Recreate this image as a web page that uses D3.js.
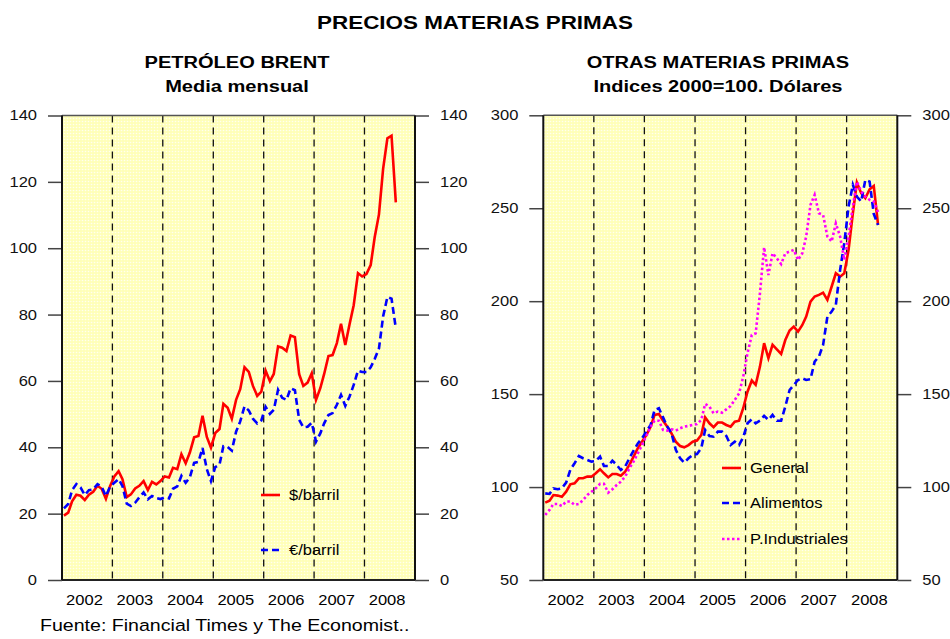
<!DOCTYPE html>
<html>
<head>
<meta charset="utf-8">
<script src="https://cdn.jsdelivr.net/npm/d3@7"></script>
<style>
  body { margin: 0; background: #fff; }
  svg { display: block; font-family: "Liberation Sans", Arial, sans-serif; }
</style>
</head>
<body>
<svg id="chart" width="950" height="639"></svg>
<script>
// year labels on the x axis
var years = ["2002", "2003", "2004", "2005", "2006", "2007", "2008"];

// Brent, monthly average, Jan 2002 - Aug 2008
var brentUsd = [19.4, 20.3, 23.7, 25.7, 25.4, 24.1, 25.7, 26.6, 28.4, 27.5, 24.5, 28.3,
  31.2, 32.8, 30.4, 25.0, 25.8, 27.6, 28.4, 29.8, 27.1, 29.6, 28.8, 29.8,
  31.2, 30.9, 33.8, 33.4, 37.9, 35.2, 38.4, 43.0, 43.4, 49.5, 43.1, 39.9,
  44.3, 45.5, 53.1, 51.9, 48.6, 54.3, 57.5, 64.1, 62.7, 58.5, 55.5, 56.8,
  63.1, 59.9, 62.1, 70.4, 70.0, 69.0, 73.7, 73.2, 62.0, 58.5, 59.5, 62.3,
  54.3, 57.8, 62.1, 67.5, 67.8, 71.4, 77.2, 70.8, 77.1, 82.8, 92.5, 91.5,
  92.2, 94.9, 103.3, 110.2, 123.9, 133.1, 133.9, 113.8];
var brentEur = [21.6, 22.9, 27.1, 28.9, 27.9, 25.6, 27.1, 27.3, 28.9, 28.1, 25.3, 28.1,
  29.3, 30.4, 28.3, 23.0, 22.3, 23.3, 24.9, 26.4, 24.3, 25.3, 24.7, 24.4,
  24.9, 24.6, 27.5, 28.2, 31.4, 29.3, 30.9, 35.3, 35.6, 39.8, 33.4, 29.8,
  34.0, 34.8, 40.3, 40.1, 39.0, 44.7, 47.8, 52.3, 51.1, 48.6, 47.2, 48.1,
  52.2, 50.1, 51.3, 57.3, 54.9, 54.3, 57.8, 57.2, 48.3, 46.0, 46.2, 47.4,
  41.7, 44.2, 47.2, 49.7, 50.3, 52.8, 55.8, 52.5, 55.3, 58.8, 63.1, 62.7,
  62.7, 64.1, 66.6, 69.8, 79.4, 85.3, 84.8, 75.9];

// commodity indices 2000=100, dollars
var general = [91.6, 92.7, 95.7, 95.4, 94.8, 97.5, 101.5, 102.0, 104.7, 104.7, 105.6, 105.6,
  107.4, 109.6, 107.4, 105.2, 107.0, 107.0, 106.1, 108.3, 111.9, 116.4, 120.9, 124.4,
  128.0, 132.5, 138.8, 139.3, 135.7, 132.5, 128.9, 124.4, 122.1, 121.4, 122.6, 124.4,
  125.0, 128.0, 137.5, 134.3, 132.2, 134.7, 134.7, 133.4, 132.5, 135.2, 135.7, 142.4,
  151.3, 157.3, 155.0, 164.8, 177.4, 169.3, 176.5, 174.1, 171.6, 179.1, 184.2, 186.3,
  183.6, 187.2, 191.7, 199.8, 202.5, 203.4, 204.6, 200.7, 207.9, 215.0, 213.2, 215.0,
  227.6, 247.3, 263.8, 258.1, 255.4, 260.2, 262.0, 241.0];
var alimentos = [96.6, 96.3, 99.3, 98.8, 99.3, 102.4, 109.2, 112.8, 116.7, 115.5, 114.6, 113.7,
  114.0, 116.4, 111.3, 111.3, 114.2, 111.9, 109.2, 111.0, 115.5, 119.6, 123.5, 126.2,
  129.8, 133.4, 141.5, 142.4, 137.5, 132.5, 128.9, 120.0, 115.5, 113.1, 115.5, 117.3,
  117.8, 120.9, 130.7, 127.5, 127.1, 129.8, 129.8, 127.5, 122.6, 124.4, 122.6, 126.8,
  134.3, 136.5, 134.3, 135.7, 138.3, 136.1, 138.8, 135.7, 135.7, 143.3, 152.2, 154.9,
  157.6, 158.5, 157.6, 158.0, 167.5, 170.2, 176.5, 191.7, 194.4, 198.0, 216.8, 231.2,
  250.9, 262.6, 256.3, 253.6, 265.2, 264.3, 247.0, 241.0];
var industriales = [85.0, 87.7, 90.9, 90.9, 89.8, 92.2, 92.2, 90.4, 90.9, 93.0, 95.7, 97.5,
  99.3, 101.7, 101.7, 97.0, 98.8, 101.1, 102.9, 105.6, 110.1, 113.7, 118.2, 122.6,
  127.5, 132.5, 135.7, 135.7, 130.7, 130.4, 131.1, 130.4, 131.6, 132.5, 132.9, 133.4,
  133.9, 136.1, 144.7, 143.3, 139.7, 140.6, 140.0, 141.8, 143.6, 146.9, 150.4, 159.4,
  172.0, 181.8, 182.7, 204.3, 229.0, 214.1, 225.8, 223.1, 220.0, 225.8, 226.7, 227.6,
  222.2, 225.8, 234.8, 251.8, 257.2, 247.3, 246.4, 234.8, 232.1, 241.9, 234.8, 222.2,
  234.8, 250.9, 264.3, 259.0, 256.3, 254.5, 253.6, 248.0];

var leftTicks = [0, 20, 40, 60, 80, 100, 120, 140];
var rightTicks = [50, 100, 150, 200, 250, 300];

var months = brentUsd.map(function (d, i) { return new Date(2002, i, 15); });

var svg = d3.select("#chart");

// background dot texture
var defs = svg.append("defs");
var pat = defs.append("pattern").attr("id", "dots")
  .attr("width", 3).attr("height", 3).attr("patternUnits", "userSpaceOnUse");
pat.append("rect").attr("width", 3).attr("height", 3).attr("fill", "#ffffb8");
pat.append("circle").attr("cx", 1.5).attr("cy", 1.5).attr("r", 0.8).attr("fill", "#fffff0");

svg.append("text")
  .attr("x", 475).attr("y", 29)
  .attr("text-anchor", "middle")
  .attr("font-size", 19).attr("font-weight", "bold")
  .text("PRECIOS MATERIAS PRIMAS");

svg.append("text")
  .attr("x", 40).attr("y", 631)
  .attr("font-size", 16.6)
  .text("Fuente: Financial Times y The Economist..");

function drawPanel(p) {
  var g = svg.append("g");

  var x = d3.scaleTime()
    .domain([new Date(2002, 0, 1), new Date(2009, 0, 1)])
    .range([p.left, p.right]);
  var y = d3.scaleLinear().domain(p.domain).range([p.bottom, p.top]);

  // titles
  g.selectAll(".ttl").data(p.titles).enter().append("text")
    .attr("x", p.titleX).attr("y", function (d, i) { return 68 + i * 24; })
    .attr("text-anchor", "middle")
    .attr("font-size", 17).attr("font-weight", "bold")
    .text(function (d) { return d; });

  g.append("rect")
    .attr("x", p.left).attr("y", p.top)
    .attr("width", p.right - p.left).attr("height", p.bottom - p.top)
    .attr("fill", "url(#dots)");

  // year separators
  g.selectAll(".sep").data(years.slice(1)).enter().append("line")
    .attr("x1", function (d) { return x(new Date(+d, 0, 1)); })
    .attr("x2", function (d) { return x(new Date(+d, 0, 1)); })
    .attr("y1", p.top).attr("y2", p.bottom)
    .attr("stroke", "#111").attr("stroke-width", 1.3)
    .attr("stroke-dasharray", "7,5");

  // axes
  var axL = d3.axisLeft(y).tickValues(p.ticks).tickSize(14).tickPadding(11);
  var axR = d3.axisRight(y).tickValues(p.ticks).tickSize(14).tickPadding(11);
  [[axL, p.left], [axR, p.right]].forEach(function (a) {
    var ax = g.append("g").attr("transform", "translate(" + a[1] + ",0)").call(a[0]);
    ax.select(".domain").remove();
    ax.selectAll("line").attr("stroke", "#444").attr("stroke-width", 1.5);
    ax.selectAll("text").attr("font-size", 14).attr("fill", "#111")
      .attr("font-family", "Liberation Sans, Arial, sans-serif");
  });

  // frame
  g.append("line").attr("x1", p.left).attr("x2", p.right).attr("y1", p.top).attr("y2", p.top)
    .attr("stroke", "#555").attr("stroke-width", 1.5);
  g.append("line").attr("x1", p.left).attr("x2", p.right).attr("y1", p.bottom).attr("y2", p.bottom)
    .attr("stroke", "#222").attr("stroke-width", 2);
  g.append("line").attr("x1", p.left).attr("x2", p.left).attr("y1", p.top).attr("y2", p.bottom)
    .attr("stroke", "#111").attr("stroke-width", 2);
  g.append("line").attr("x1", p.right).attr("x2", p.right).attr("y1", p.top).attr("y2", p.bottom)
    .attr("stroke", "#111").attr("stroke-width", 2);

  // year labels
  g.selectAll(".yr").data(years).enter().append("text")
    .attr("x", function (d) { return x(new Date(+d, 6, 1)) - 2.5; })
    .attr("y", p.bottom + 25)
    .attr("text-anchor", "middle")
    .attr("font-size", 14)
    .text(function (d) { return d; });

  var line = d3.line()
    .x(function (d, i) { return x(months[i]); })
    .y(function (d) { return y(d); });

  p.series.forEach(function (s) {
    g.append("path")
      .datum(s.values)
      .attr("d", line)
      .attr("fill", "none")
      .attr("stroke", s.color)
      .attr("stroke-width", 2.6)
      .attr("stroke-dasharray", s.dash)
      .attr("stroke-linejoin", "miter");
  });

  // legend
  p.series.forEach(function (s) {
    g.append("line")
      .attr("x1", s.lx).attr("x2", s.lx + 19)
      .attr("y1", s.ly).attr("y2", s.ly)
      .attr("stroke", s.color).attr("stroke-width", 2.6)
      .attr("stroke-dasharray", s.dash);
    g.append("text")
      .attr("x", s.lx + 28).attr("y", s.ly + 5)
      .attr("font-size", 14)
      .text(s.name);
  });
}

drawPanel({
  left: 62, right: 415, top: 115.5, bottom: 580,
  domain: [0, 140], ticks: leftTicks,
  titles: ["PETRÓLEO BRENT", "Media mensual"], titleX: 237,
  series: [
    { name: "$/barril", values: brentUsd, color: "#ff0000", dash: null, lx: 261, ly: 495 },
    { name: "€/barril", values: brentEur, color: "#0000ff", dash: "7,4", lx: 261, ly: 550 }
  ]
});

drawPanel({
  left: 543.3, right: 897.3, top: 115.3, bottom: 580,
  domain: [50, 300], ticks: rightTicks,
  titles: ["OTRAS MATERIAS PRIMAS", "Indices 2000=100. Dólares"], titleX: 718,
  series: [
    { name: "General", values: general, color: "#ff0000", dash: null, lx: 722, ly: 468 },
    { name: "Alimentos", values: alimentos, color: "#0000ff", dash: "7,4", lx: 722, ly: 503 },
    { name: "P.Industriales", values: industriales, color: "#ff00ff", dash: "2.5,2.5", lx: 722, ly: 539 }
  ]
});

// the original lettering is wider than Arial: stretch every label around its anchor
svg.selectAll("text").each(function () {
  var cx = +d3.select(this).attr("x") || 0;
  d3.select(this).attr("transform",
    "translate(" + cx + ",0) scale(1.18,1) translate(" + (-cx) + ",0)");
});
</script>
</body>
</html>
